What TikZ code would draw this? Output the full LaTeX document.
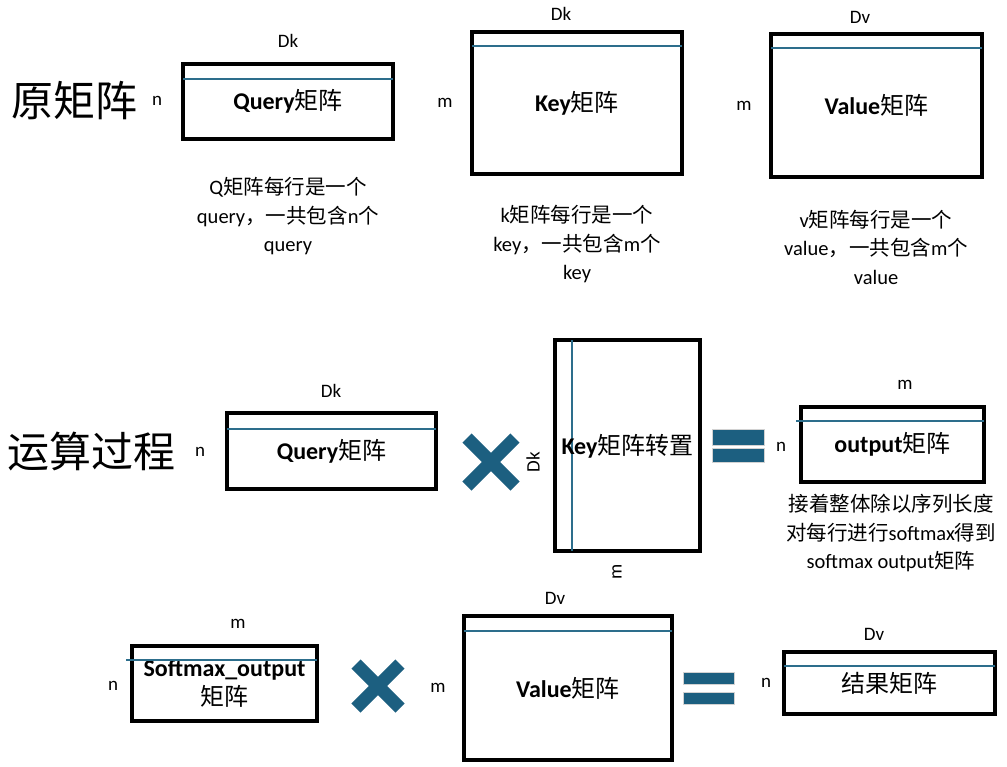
\documentclass[tikz,border=0pt]{standalone}
\usepackage{fontspec}
\setmainfont{Carlito}
\newfontfamily\cjk{Noto Sans CJK SC}
\newcommand\zhtxt[1]{{\cjk #1}}
\definecolor{teal1}{RGB}{28,95,128}
\definecolor{tline}{RGB}{45,110,140}
\begin{document}
\begin{tikzpicture}[x=1pt,y=-1pt,
 mat/.style={draw=black,line width=4pt,inner sep=0pt,outer sep=0pt,align=center,font=\fontsize{24}{30}\selectfont},
 dim/.style={inner sep=0pt,font=\fontsize{19}{22}\selectfont},
 capt/.style={inner sep=0pt,align=center,font=\fontsize{20.5}{28.5}\selectfont},
 big/.style={inner sep=0pt,font=\fontsize{42}{46}\selectfont\cjk},
 rowline/.style={draw=tline,line width=1.5pt},
 times/.style={draw=teal1,line width=13pt},
 bar/.style={fill=teal1,draw=gray!35,line width=1pt,inner sep=0pt,outer sep=0pt}
]
\path[use as bounding box] (0,0) rectangle (1007,766);
\fill[white] (0,0) rectangle (1007,766);

% ---------- Row 1: original matrices ----------
\node[big] (h1) at (75,101) {原矩阵};

\node[mat,minimum width=210pt,minimum height=75pt] (q1) at (288,101.5) {\textbf{Query}\zhtxt{矩阵}};
\draw[rowline] ([yshift=-15pt]q1.north west) -- ([yshift=-15pt]q1.north east);
\node[dim] (q1dk) at (288,41) {Dk};
\node[dim] (q1n) at (157,101) {n};
\node[capt] (q1c) at (288,216) {Q\zhtxt{矩阵每行是一个}\\query\zhtxt{，一共包含}n\zhtxt{个}\\query};

\node[mat,minimum width=210pt,minimum height=142pt] (k1) at (577,103) {\textbf{Key}\zhtxt{矩阵}};
\draw[rowline] ([yshift=-14pt]k1.north west) -- ([yshift=-14pt]k1.north east);
\node[dim] (k1dk) at (561,14) {Dk};
\node[dim] (k1m) at (445,103) {m};
\node[capt] (k1c) at (577,244) {k\zhtxt{矩阵每行是一个}\\key\zhtxt{，一共包含}m\zhtxt{个}\\key};

\node[mat,minimum width=211pt,minimum height=143pt] (v1) at (876.5,105.5) {\textbf{Value}\zhtxt{矩阵}};
\draw[rowline] ([yshift=-14pt]v1.north west) -- ([yshift=-14pt]v1.north east);
\node[dim] (v1dv) at (860,17) {Dv};
\node[dim] (v1m) at (744,106) {m};
\node[capt] (v1c) at (876,247) {v\zhtxt{矩阵每行是一个}\\value\zhtxt{，一共包含}m\zhtxt{个}\\value};

% ---------- Row 2: Q x K^T ----------
\node[big] (h2) at (92,452) {运算过程};

\node[mat,minimum width=209pt,minimum height=76pt] (q2) at (331.5,451) {\textbf{Query}\zhtxt{矩阵}};
\draw[rowline] ([yshift=-16pt]q2.north west) -- ([yshift=-16pt]q2.north east);
\node[dim] (q2dk) at (331,391) {Dk};
\node[dim] (q2n) at (200,452) {n};

\draw[times] (467,438) -- (515,486);
\draw[times] (467,486) -- (515,438);
\node[dim,rotate=90] (ktdk) at (533,462) {Dk};

\node[mat,minimum width=145pt,minimum height=211pt] (kt) at (627.5,445.5) {};
\draw[rowline] ([xshift=17pt]kt.north west) -- ([xshift=17pt]kt.south west);
\node[inner sep=0pt,font=\fontsize{24}{30}\selectfont] (ktt) at (627.5,446) {\textbf{Key}\zhtxt{矩阵转置}};
\node[dim,rotate=90] (ktm) at (617,572) {m};

\node[bar,minimum width=52pt,minimum height=16pt] (eq1a) at (738,437) {};
\node[bar,minimum width=52pt,minimum height=14pt] (eq1b) at (738,455.5) {};

\node[dim] (o2n) at (781,447) {n};
\node[mat,minimum width=183pt,minimum height=75pt] (o2) at (892.5,444.5) {\textbf{output}\zhtxt{矩阵}};
\draw[rowline] ([xshift=-5pt,yshift=-14pt]o2.north west) -- ([yshift=-14pt]o2.north east);
\node[dim] (o2m) at (905,385) {m};
\node[capt] (o2c) at (891,533) {\zhtxt{接着整体除以序列长度}\\\zhtxt{对每行进行}softmax\zhtxt{得到}\\softmax output\zhtxt{矩阵}};

% ---------- Row 3: softmax x V ----------
\node[mat,minimum width=185pt,minimum height=75pt,font=\fontsize{24}{30}\selectfont] (s3) at (224.5,683.5) {\textbf{Softmax\_output}\\[-1pt]\zhtxt{矩阵}};
\draw[rowline] ([xshift=-6pt,yshift=-14pt]s3.north west) -- ([yshift=-14pt]s3.north east);
\node[dim] (s3m) at (238,624) {m};
\node[dim] (s3n) at (113,686) {n};

\draw[times] (356,664) -- (400,708);
\draw[times] (356,708) -- (400,664);

\node[dim] (v3m) at (438,688) {m};
\node[mat,minimum width=208pt,minimum height=144pt] (v3) at (568,688) {\textbf{Value}\zhtxt{矩阵}};
\draw[rowline] ([yshift=-15pt]v3.north west) -- ([yshift=-15pt]v3.north east);
\node[dim] (v3dv) at (555,598) {Dv};

\node[bar,minimum width=51pt,minimum height=12pt] (eq2a) at (708.5,678) {};
\node[bar,minimum width=51pt,minimum height=12pt] (eq2b) at (708.5,698) {};

\node[dim] (r3n) at (766,683) {n};
\node[mat,minimum width=211pt,minimum height=62pt] (r3) at (889.5,683) {\zhtxt{结果矩阵}};
\draw[rowline] ([yshift=-14pt]r3.north west) -- ([yshift=-14pt]r3.north east);
\node[dim] (r3dv) at (874,634) {Dv};
\end{tikzpicture}
\end{document}
